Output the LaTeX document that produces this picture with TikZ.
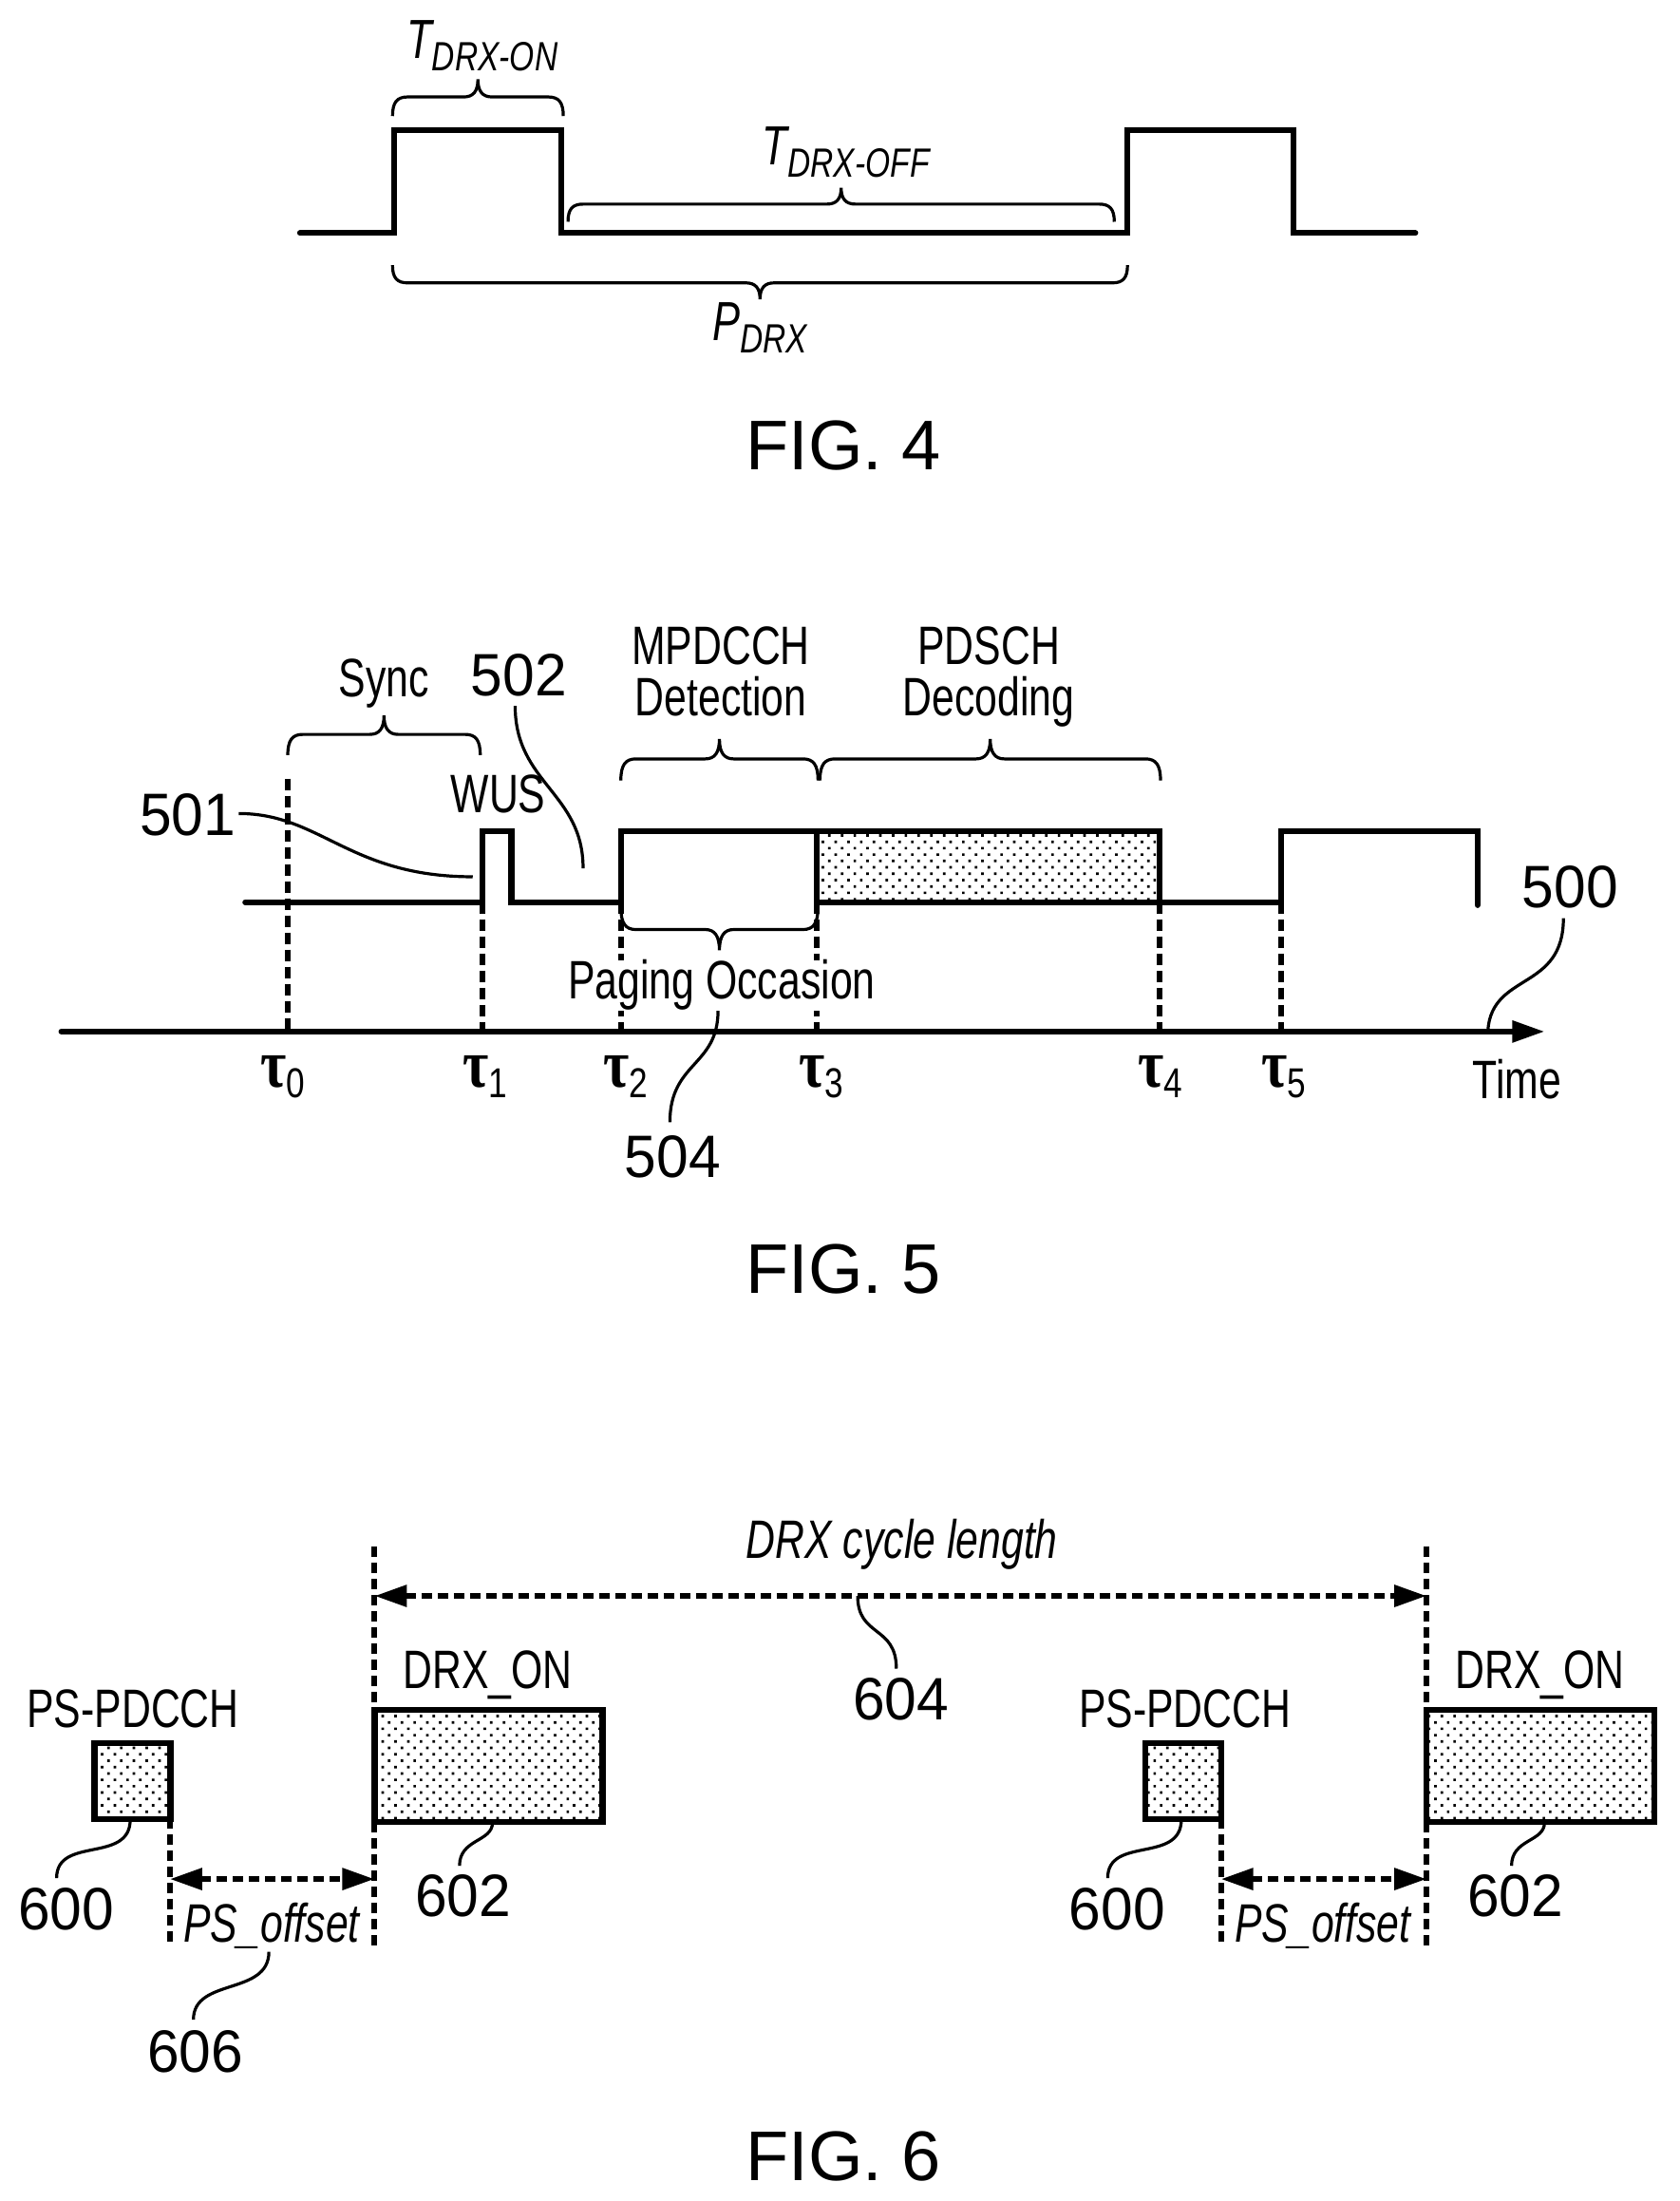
\documentclass[tikz,border=0pt]{standalone}
\usepackage{graphicx}
\usepackage{fontspec}
\setmainfont{Liberation Sans}
\newfontfamily\greekserif{Liberation Serif}
\usetikzlibrary{arrows.meta,patterns.meta}
\newcommand{\lab}[1]{\scalebox{.75}[1]{#1}}
\newcommand{\numb}[1]{\scalebox{.96}[1]{#1}}
\newcommand{\tsub}[2]{\scalebox{.75}[1]{\fontsize{58}{58}\selectfont\itshape #1}\raisebox{-13pt}{\scalebox{.78}[1]{\fontsize{43}{43}\selectfont\itshape #2}}}
\newcommand{\taus}[1]{\scalebox{.82}[1]{\fontsize{72}{72}\selectfont\greekserif\bfseries τ}\raisebox{-11pt}{\scalebox{.8}[1]{\fontsize{44}{44}\selectfont #1}}}
% curly brace: x1, x2, y of the open ends, signed height (positive = tip upwards)
\newcommand{\curly}[4]{%
  \pgfmathsetmacro\xm{(#1+#2)/2}\pgfmathsetmacro\yf{#3-0.52*#4}\pgfmathsetmacro\yt{#3-#4}%
  \pgfmathsetmacro\ys{\yf+0.14*#4}\pgfmathsetmacro\yc{\yf-0.15*#4}%
  \draw[lead] (#1,#3) .. controls (#1,\ys) and (#1+5,\yf) .. (#1+16,\yf) -- (\xm-15,\yf)
     .. controls (\xm-5,\yf) and (\xm,\yc) .. (\xm,\yt)
     .. controls (\xm,\yc) and (\xm+5,\yf) .. (\xm+15,\yf) -- (#2-16,\yf)
     .. controls (#2-5,\yf) and (#2,\ys) .. (#2,#3);}
\tikzset{
  sig/.style={line width=6.2pt,line cap=butt,line join=miter},
  sigr/.style={line width=6.2pt,line cap=round,line join=miter},
  dash line/.style={line width=6pt,dash pattern=on 12pt off 6pt},
  dim line/.style={line width=6pt,dash pattern=on 11pt off 6pt,{Triangle[length=34pt,width=22pt]}-{Triangle[length=34pt,width=22pt]}},
  lead/.style={line width=3.2pt},
  lab/.style={font=\fontsize{57}{54}\selectfont,inner sep=0pt,align=center},
  numl/.style={font=\fontsize{63}{63}\selectfont,inner sep=0pt},
  figl/.style={font=\fontsize{74}{74}\selectfont,inner sep=0pt},
  ital/.style={font=\fontsize{57}{57}\selectfont\itshape,inner sep=0pt},
  dotted box/.style={draw,line width=6.5pt,pattern={Dots[distance=9.5pt,angle=45,radius=1.9pt]},pattern color=black,inner sep=0pt,outer sep=0pt}
}
\begin{document}
\begin{tikzpicture}[x=0.9935pt,y=-0.9935pt]
\fill[white] (0,0) rectangle (1779.57,2332.16);
\useasboundingbox (0,0) rectangle (1779.57,2332.16);

% ---------- FIG. 4
\coordinate (a0) at (318,247); \coordinate (a1) at (418,247); \coordinate (a2) at (418,138);
\coordinate (a3) at (595,138); \coordinate (a4) at (595,247); \coordinate (a5) at (1195,247);
\coordinate (a6) at (1195,138); \coordinate (a7) at (1371,138); \coordinate (a8) at (1371,247);
\coordinate (a9) at (1500,247);
\draw[sigr] (a0)--(a1)--(a2)--(a3)--(a4)--(a5)--(a6)--(a7)--(a8)--(a9);
\curly{416}{597}{123}{39}
\curly{602}{1181}{235}{36}
\curly{416}{1195}{281}{-36}
\node[inner sep=0pt,anchor=base west] (tOn) at (431,62) {\tsub{T}{DRX-ON}};
\node[inner sep=0pt,anchor=base west] (tOff) at (808,175) {\tsub{T}{DRX-OFF}};
\node[inner sep=0pt,anchor=base west] (pDrx) at (755,361) {\tsub{P}{DRX}};
\node[figl] (fig4) at (894,472) {FIG. 4};

% ---------- FIG. 5
\coordinate (s0) at (260,956); \coordinate (s1) at (511,956); \coordinate (s2) at (511,881);
\coordinate (s3) at (542,881); \coordinate (s4) at (542,956); \coordinate (s5) at (658,956);
\coordinate (s6) at (658,881); \coordinate (s7) at (1229,881); \coordinate (s8) at (1229,956);
\coordinate (s9) at (1358,956); \coordinate (s10) at (1358,881); \coordinate (s11) at (1566,881);
\coordinate (s12) at (1566,959);
\coordinate (t0) at (305,825); \coordinate (ax0) at (305,1093);
\coordinate (t1) at (511,956); \coordinate (ax1) at (511,1093);
\coordinate (t2) at (658,956); \coordinate (ax2) at (658,1093);
\coordinate (t3) at (866,956); \coordinate (ax3) at (866,1093);
\coordinate (t4) at (1229,956); \coordinate (ax4) at (1229,1093);
\coordinate (t5) at (1358,956); \coordinate (ax5) at (1358,1093);
\foreach \i in {0,...,5} \draw[dash line] (t\i)--(ax\i);
\node[dotted box,draw=none,anchor=north west,minimum width=360pt,minimum height=75pt] (pdsch) at (866,881) {};
\draw[sigr] (s0)--(s1)--(s2)--(s3)--(s4)--(s5)--(s6)--(s7)--(s8)--(s9)--(s10)--(s11)--(s12);
\coordinate (s13) at (866,881); \coordinate (s14) at (866,956);
\draw[sig] (s13)--(s14)--(s8);
\coordinate (axl) at (65,1093); \coordinate (axr) at (1637,1093);
\draw[line width=6pt,line cap=round,-{Triangle[length=34pt,width=22pt]}] (axl)--(axr);
\curly{305}{509}{800}{42}
\curly{658}{867}{827}{44}
\curly{869}{1230}{827}{44}
\curly{658}{867}{961}{-46}
\node[lab] (sync) at (407,724) {\lab{Sync}};
\node[lab] (mpd) at (764,711) {\lab{MPDCCH}\\\lab{Detection}};
\node[lab] (pds) at (1048,717) {\lab{PDSCH}\\\lab{Decoding}};
\node[lab] (wus) at (528,841) {\lab{WUS}};
\node[lab,fill=white,inner xsep=2pt] (paging) at (765,1044) {\lab{Paging Occasion}};
\node[lab] (time) at (1608,1144) {\lab{Time}};
\node[numl] (n501) at (199,863) {\numb{501}};
\node[numl] (n502) at (550,715) {\numb{502}};
\node[numl] (n500) at (1664,940) {\numb{500}};
\node[numl] (n504) at (713,1226) {\numb{504}};
\node[inner sep=0pt,anchor=base west] (tau0) at (276,1152) {\taus{0}};
\node[inner sep=0pt,anchor=base west] (tau1) at (490,1152) {\taus{1}};
\node[inner sep=0pt,anchor=base west] (tau2) at (639,1152) {\taus{2}};
\node[inner sep=0pt,anchor=base west] (tau3) at (847,1152) {\taus{3}};
\node[inner sep=0pt,anchor=base west] (tau4) at (1206,1152) {\taus{4}};
\node[inner sep=0pt,anchor=base west] (tau5) at (1337,1152) {\taus{5}};
\coordinate (l501a) at (253,862); \coordinate (l501b) at (501,929);
\draw[lead] (l501a) .. controls (340,862) and (370,929) .. (l501b);
\coordinate (l502a) at (546,748); \coordinate (l502b) at (618,920);
\draw[lead] (l502a) .. controls (546,830) and (618,840) .. (l502b);
\coordinate (l504a) at (761,1071); \coordinate (l504b) at (710,1189);
\draw[lead] (l504a) .. controls (761,1130) and (710,1125) .. (l504b);
\coordinate (l500a) at (1657,973); \coordinate (l500b) at (1577,1091);
\draw[lead] (l500a) .. controls (1657,1050) and (1582,1030) .. (l500b);
\node[figl] (fig5) at (894,1345) {FIG. 5};

% ---------- FIG. 6
\foreach \nm/\xx in {A/180,B/1294} {
  \coordinate (\nm u) at (\xx,1927); \coordinate (\nm d) at (\xx,2062);
  \draw[line width=6pt,dash pattern=on 11pt off 6pt] (\nm u)--(\nm d);
}
\foreach \nm/\xx in {C/397,D/1512} {
  \coordinate (\nm t) at (\xx,1639); \coordinate (\nm u) at (\xx,1810);
  \coordinate (\nm v) at (\xx,1931); \coordinate (\nm d) at (\xx,2062);
  \draw[line width=6pt,dash pattern=on 11pt off 6pt] (\nm t)--(\nm u);
  \draw[line width=6pt,dash pattern=on 11pt off 6pt] (\nm v)--(\nm d);
}
\node[dotted box,anchor=north west,minimum width=80pt,minimum height=80pt] (ps1) at (100,1847) {};
\node[dotted box,anchor=north west,minimum width=240pt,minimum height=118pt] (dr1) at (397,1812) {};
\node[dotted box,anchor=north west,minimum width=80pt,minimum height=80pt] (ps2) at (1214,1847) {};
\node[dotted box,anchor=north west,minimum width=240pt,minimum height=118pt] (dr2) at (1512,1812) {};
\coordinate (cyL) at (397,1691); \coordinate (cyR) at (1512,1691);
\draw[dim line] (cyL)--(cyR);
\coordinate (ofL1) at (180,1991); \coordinate (ofR1) at (397,1991);
\draw[dim line] (ofL1)--(ofR1);
\coordinate (ofL2) at (1294,1991); \coordinate (ofR2) at (1512,1991);
\draw[dim line] (ofL2)--(ofR2);
\node[ital,anchor=base] (cycle) at (956,1651) {\lab{DRX cycle length}};
\node[ital,anchor=base] (off1) at (288,2058) {\lab{PS\_offset}};
\node[ital,anchor=base] (off2) at (1402,2058) {\lab{PS\_offset}};
\node[lab,anchor=base] (pp1) at (141,1830) {\lab{PS-PDCCH}};
\node[lab,anchor=base] (pp2) at (1256,1830) {\lab{PS-PDCCH}};
\node[lab,anchor=base] (do1) at (517,1789) {\lab{DRX\_ON}};
\node[lab,anchor=base] (do2) at (1632,1789) {\lab{DRX\_ON}};
\node[numl] (n600a) at (70,2023) {\numb{600}};
\node[numl] (n600b) at (1184,2023) {\numb{600}};
\node[numl] (n602a) at (491,2009) {\numb{602}};
\node[numl] (n602b) at (1606,2009) {\numb{602}};
\node[numl] (n606) at (207,2174) {\numb{606}};
\node[numl] (n604) at (955,1800) {\numb{604}};
\coordinate (l1a) at (138,1928); \coordinate (l1b) at (60,1990);
\draw[lead] (l1a) .. controls (138,1975) and (60,1945) .. (l1b);
\coordinate (l2a) at (1252,1928); \coordinate (l2b) at (1174,1990);
\draw[lead] (l2a) .. controls (1252,1975) and (1174,1945) .. (l2b);
\coordinate (l3a) at (522,1931); \coordinate (l3b) at (487,1977);
\draw[lead] (l3a) .. controls (522,1952) and (487,1948) .. (l3b);
\coordinate (l4a) at (1637,1931); \coordinate (l4b) at (1602,1977);
\draw[lead] (l4a) .. controls (1637,1952) and (1602,1948) .. (l4b);
\coordinate (l6a) at (285,2068); \coordinate (l6b) at (205,2140);
\draw[lead] (l6a) .. controls (285,2115) and (205,2095) .. (l6b);
\coordinate (l7a) at (909,1691); \coordinate (l7b) at (950,1768);
\draw[lead] (l7a) .. controls (909,1735) and (950,1722) .. (l7b);
\node[figl] (fig6) at (894,2285) {FIG. 6};
\end{tikzpicture}
\end{document}
